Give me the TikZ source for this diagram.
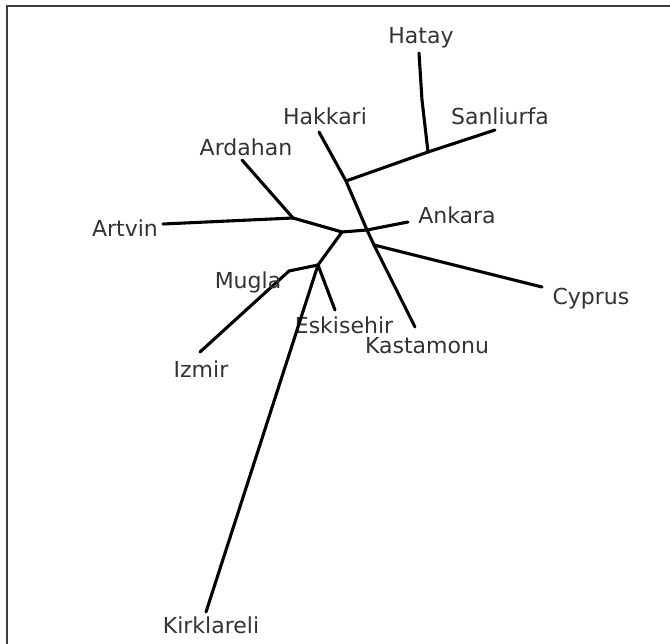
\documentclass[tikz,border=0pt]{standalone}
\usepackage{fontspec}
\setmainfont{DejaVu Sans}
\definecolor{labelgray}{HTML}{333333}
\definecolor{framegray}{HTML}{3C3C3C}
\begin{document}
\begin{tikzpicture}[x=1pt,y=-1pt,
  branch/.style={draw=black,line width=3.1pt,line cap=round,line join=round},
  taxon/.style={font=\fontsize{22}{24}\selectfont,text=labelgray,inner sep=0pt},
  frameline/.style={draw=framegray,line width=2pt}]
\useasboundingbox (0,0) rectangle (670,644);
\fill[white] (0,0) rectangle (670,644);
% frame (top and left edges visible)
\coordinate (f1) at (6.5,644);
\coordinate (f2) at (6.5,6.5);
\coordinate (f3) at (670,6.5);
\draw[frameline] (f1) -- (f2) -- (f3);
% internal nodes
\coordinate (A) at (428,152);
\coordinate (B) at (346,181);
\coordinate (C) at (367,230);
\coordinate (D) at (342,232);
\coordinate (E) at (293,218);
\coordinate (F) at (318,265);
\coordinate (G) at (289,271);
\coordinate (H) at (374,245);
% leaf ends
\coordinate (hatEnd) at (419,53);
\coordinate (hatKink) at (422,100);
\coordinate (sanEnd) at (495,130);
\coordinate (hakEnd) at (319,132);
\coordinate (ankEnd) at (408,222);
\coordinate (ardEnd) at (242,160);
\coordinate (artEnd) at (163,224);
\coordinate (izmEnd) at (200,352);
\coordinate (eskEnd) at (335,310);
\coordinate (kirEnd) at (206,612);
\coordinate (kasEnd) at (415,327);
\coordinate (cypEnd) at (542,287);
% labels
\node[taxon] (hatay) at (421,38) {Hatay};
\node[taxon] (sanliurfa) at (500,116) {Sanliurfa};
\node[taxon] (hakkari) at (325,116) {Hakkari};
\node[taxon] (ardahan) at (246,147) {Ardahan};
\node[taxon] (ankara) at (457,215) {Ankara};
\node[taxon] (artvin) at (125,228) {Artvin};
\node[taxon] (cyprus) at (591,299) {Cyprus};
\node[taxon] (eskisehir) at (344,325) {Eskisehir};
\node[taxon] (kastamonu) at (427,346) {Kastamonu};
\node[taxon] (izmir) at (201,369) {Izmir};
\node[taxon] (kirklareli) at (211,625) {Kirklareli};
% branches
\draw[branch] (hatEnd) -- (hatKink) -- (A);
\draw[branch] (A) -- (sanEnd);
\draw[branch] (A) -- (B);
\draw[branch] (hakEnd) -- (B) -- (C);
\draw[branch] (C) -- (ankEnd);
\draw[branch] (C) -- (D);
\draw[branch] (C) -- (H) -- (kasEnd);
\draw[branch] (H) -- (cypEnd);
\draw[branch] (D) -- (E);
\draw[branch] (E) -- (ardEnd);
\draw[branch] (E) -- (artEnd);
\draw[branch] (D) -- (F);
\draw[branch] (F) -- (G) -- (izmEnd);
\draw[branch] (F) -- (eskEnd);
\draw[branch] (F) -- (kirEnd);
\node[taxon] (mugla) at (248,282) {Mugla};
\end{tikzpicture}
\end{document}
